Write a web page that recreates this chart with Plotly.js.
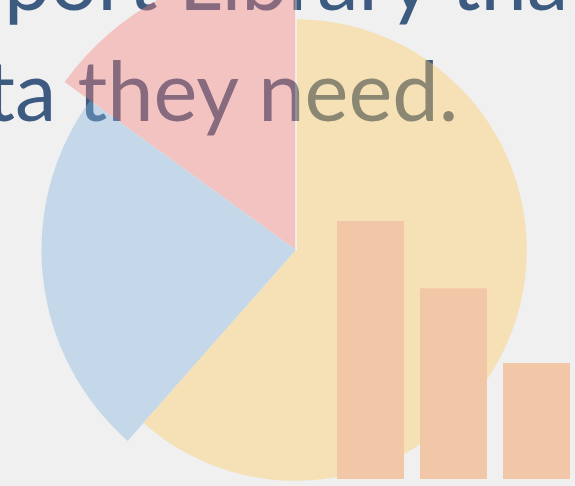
<!DOCTYPE html>
<html><head><meta charset="utf-8">
<script src="https://cdn.plot.ly/plotly-3.0.1.min.js"></script>
<style>
html,body{margin:0;padding:0;width:575px;height:486px;overflow:hidden;background:#f0f0f0;}
#text{position:absolute;left:-100px;top:-100px;width:800px;height:700px;}
#grp{position:absolute;left:0;top:0;width:575px;height:486px;opacity:0.4;}
#pie{position:absolute;left:-4px;top:-50px;width:600px;height:600px;}
#bars{position:absolute;left:0;top:0;width:575px;height:486px;}
</style></head><body>
<div id="text"></div>
<div id="grp"><div id="pie"></div><div id="bars"></div></div>
<script>
// ---- data ----
const sliceNames = ["Pink", "Blue", "Yellow"];
const sliceShares = [15, 23.5, 61.5];      // percent of the circle
const sliceRadii = [100, 89, 80.7];        // relative radius of each slice
const sliceColors = ["#f5827d", "#84b6e1", "#ffca61"];
const barCategories = ["A", "B", "C"];
const barValues = [100, 74, 45];
const barColor = "#f78c3c";
const textLine1 = "Support Library that";
const textLine2 = "data they need.";
const textColor = "#3d5a80";

const cfg = {staticPlot: true, displayModeBar: false};

// ---- text layer (larger than the window; the window crops it) ----
Plotly.newPlot("text", [], {
  width: 800, height: 700, margin: {l:0, r:0, t:0, b:0},
  paper_bgcolor: "#f0f0f0", plot_bgcolor: "#f0f0f0",
  xaxis: {visible: false}, yaxis: {visible: false}, showlegend: false,
  annotations: [
    {text: textLine1, xref: "paper", yref: "paper", x: 0.874, y: 0.889,
     xanchor: "right", yanchor: "middle", showarrow: false,
     font: {family: "Lato", size: 83, color: textColor}},
    {text: textLine2, xref: "paper", yref: "paper", x: 0.70, y: 0.7296,
     xanchor: "right", yanchor: "middle", showarrow: false,
     font: {family: "Lato", size: 83, color: textColor}}
  ]
}, cfg);

// ---- pie (variable-radius sectors) ----
const total = sliceShares.reduce((a, b) => a + b, 0);
let acc = 0;
const thetas = [], widths = [];
sliceShares.forEach(s => {
  const w = s / total * 360;
  thetas.push(acc + w / 2);
  widths.push(w);
  acc += w;
});
Plotly.newPlot("pie", [
  {type: "barpolar", r: sliceRadii, theta: thetas, width: widths,
   text: sliceNames, marker: {color: sliceColors, line: {width: 0}}, hoverinfo: "none"},
  {type: "scatterpolar", mode: "lines", r: [0, sliceRadii[0]], theta: [0, 0],
   line: {color: "#ffffff", width: 1.5}, hoverinfo: "none"}
], {
  width: 600, height: 600, margin: {l:0, r:0, t:0, b:0},
  paper_bgcolor: "rgba(0,0,0,0)", showlegend: false,
  polar: {
    domain: {x: [0, 1], y: [0, 1]},
    bgcolor: "rgba(0,0,0,0)",
    radialaxis: {visible: false, range: [0, 104.9], showgrid: false},
    angularaxis: {visible: false, rotation: 90, direction: "counterclockwise", showgrid: false}
  }
}, cfg);

// ---- bars ----
Plotly.newPlot("bars", [
  {type: "bar", x: barCategories, y: barValues, width: 0.807,
   marker: {color: barColor, line: {width: 0}}, hoverinfo: "none"}
], {
  width: 575, height: 486, margin: {l:0, r:0, t:0, b:0},
  paper_bgcolor: "rgba(0,0,0,0)", plot_bgcolor: "rgba(0,0,0,0)", showlegend: false,
  xaxis: {visible: false, type: "category", range: [-4.464, 2.464]},
  yaxis: {visible: false, range: [-2.71, 185.71]}
}, cfg);
</script>
</body></html>
